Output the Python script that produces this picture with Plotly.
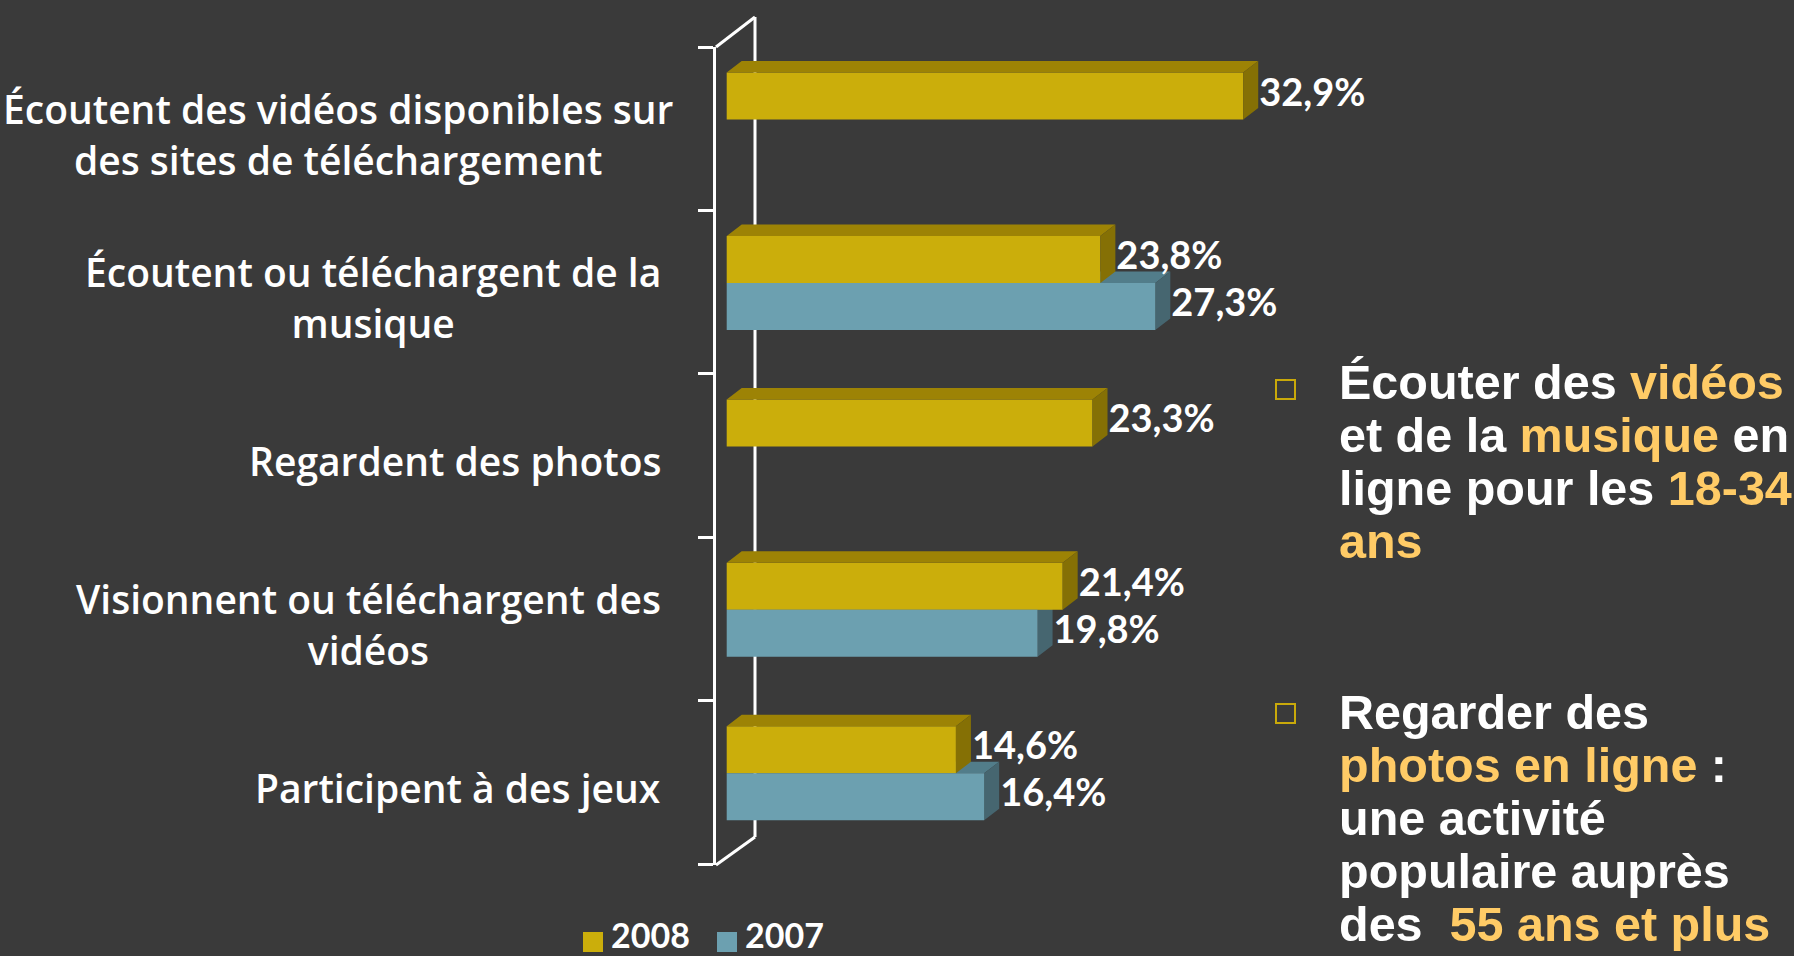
import plotly.graph_objects as go

# ---------------- data ----------------
categories = [
    "Écoutent des vidéos disponibles sur<br>des sites de téléchargement",
    "Écoutent ou téléchargent de la<br>musique",
    "Regardent des photos",
    "Visionnent ou téléchargent des<br>vidéos",
    "Participent à des jeux",
]
values_2008 = [32.9, 23.8, 23.3, 21.4, 14.6]
values_2007 = [None, 27.3, None, 19.8, 16.4]
series_names = ["2008", "2007"]

# ---------------- style / layout constants ----------------
W, H = 1794, 956
BG = "#3A3A3A"
YEL_FRONT, YEL_TOP, YEL_SIDE = "#CBAE0B", "#9D8305", "#857005"
BLU_FRONT, BLU_TOP, BLU_SIDE = "#6CA0B0", "#527D8A", "#466670"
HILITE = "#FFCB66"
BULLET = "#C9A90A"

X0_PX, X_SCALE = 726.7, 15.70          # pixel of value 0, px per %
Y0_PX, Y_STEP = 119.5, 163.45          # pixel of first group centre, px per category
X_DOM_PX = 716                          # left edge of the plot (front wall line)
Y_DOM_TOP, Y_DOM_BOT = 47, 865
BAR_W = 47 / Y_STEP
DX = 15 / X_SCALE                       # 3-D depth (x)
DY = 11.5 / Y_STEP                      # 3-D depth (y)
LABEL_GAP = 1 / X_SCALE
LABEL_RIGHT = [676, 663, 663, 663, 663]  # right edge (px) of each category label block

x_range = [(X_DOM_PX - X0_PX) / X_SCALE, (W - X0_PX) / X_SCALE]
y_range = [(Y_DOM_BOT - Y0_PX) / Y_STEP, (Y_DOM_TOP - Y0_PX) / Y_STEP]
x_domain = [X_DOM_PX / W, 1]
y_domain = [1 - Y_DOM_BOT / H, 1 - Y_DOM_TOP / H]

pos = list(range(len(categories)))


def fmt(v):
    return f"{v:.1f}".replace(".", ",") + "%"


def faces(vals, offset):
    top_x, top_y, side_x, side_y = [], [], [], []
    for p, v in zip(pos, vals):
        if v is None:
            continue
        t = p + offset
        b = t + BAR_W
        top_x += [0, v, v + DX, DX, 0, None]
        top_y += [t, t, t - DY, t - DY, t, None]
        side_x += [v, v + DX, v + DX, v, v, None]
        side_y += [t, t - DY, b - DY, b, t, None]
    return top_x, top_y, side_x, side_y


fig = go.Figure()

# 2007 depth faces (behind, base axes)
tx, ty, sx, sy = faces(values_2007, 0)
fig.add_trace(go.Scatter(x=tx, y=ty, fill="toself", fillcolor=BLU_TOP, mode="lines",
                         line=dict(width=0, color=BLU_TOP), showlegend=False, hoverinfo="skip",
                         xaxis="x", yaxis="y"))
fig.add_trace(go.Scatter(x=sx, y=sy, fill="toself", fillcolor=BLU_SIDE, mode="lines",
                         line=dict(width=0, color=BLU_SIDE), showlegend=False, hoverinfo="skip",
                         xaxis="x", yaxis="y"))

# front faces (bars) on overlay axes
fig.add_trace(go.Bar(name=series_names[0], y=pos, x=values_2008, orientation="h",
                     width=BAR_W, offset=-BAR_W, marker=dict(color=YEL_FRONT, line=dict(width=0)),
                     xaxis="x2", yaxis="y2", showlegend=False))
fig.add_trace(go.Bar(name=series_names[1], y=pos, x=values_2007, orientation="h",
                     width=BAR_W, offset=0, marker=dict(color=BLU_FRONT, line=dict(width=0)),
                     xaxis="x2", yaxis="y2", showlegend=False))

# 2008 depth faces (in front)
tx, ty, sx, sy = faces(values_2008, -BAR_W)
fig.add_trace(go.Scatter(x=tx, y=ty, fill="toself", fillcolor=YEL_TOP, mode="lines",
                         line=dict(width=0, color=YEL_TOP), showlegend=False, hoverinfo="skip",
                         xaxis="x2", yaxis="y2"))
fig.add_trace(go.Scatter(x=sx, y=sy, fill="toself", fillcolor=YEL_SIDE, mode="lines",
                         line=dict(width=0, color=YEL_SIDE), showlegend=False, hoverinfo="skip",
                         xaxis="x2", yaxis="y2"))

# value labels
for vals, off in ((values_2008, -BAR_W / 2), (values_2007, BAR_W / 2)):
    xs = [v + DX + LABEL_GAP for v in vals if v is not None]
    ys = [p + off for p, v in zip(pos, vals) if v is not None]
    ts = [fmt(v) for v in vals if v is not None]
    fig.add_trace(go.Scatter(x=xs, y=ys, text=ts, mode="text", textposition="middle right",
                             textfont=dict(family="Lato", size=38, color="white", weight="bold"),
                             showlegend=False, hoverinfo="skip", cliponaxis=False,
                             xaxis="x2", yaxis="y2"))

# category labels
for p, c, r in zip(pos, categories, LABEL_RIGHT):
    fig.add_annotation(text=c, xref="paper", yref="y", x=r / W, y=p + 14.5 / Y_STEP,
                       xanchor="right", yanchor="middle", align="center", showarrow=False,
                       font=dict(family="Open Sans", size=39, color="white", weight=600))

# back wall lines of the 3-D frame
wall = [((755, 17), (755, 837)), ((716, 47), (755, 17)), ((716, 865), (755, 837))]
for (xa, ya), (xb, yb) in wall:
    fig.add_shape(type="line", xref="paper", yref="paper", x0=xa / W, y0=1 - ya / H,
                  x1=xb / W, y1=1 - yb / H, line=dict(color="white", width=3), layer="below")

# legend (drawn manually to get the large square keys)
legend_items = [(series_names[0], YEL_FRONT, 583), (series_names[1], BLU_FRONT, 717)]
for name, col, x_px in legend_items:
    fig.add_shape(type="rect", xref="paper", yref="paper", x0=x_px / W, x1=(x_px + 20) / W,
                  y0=1 - 952 / H, y1=1 - 932 / H, fillcolor=col, line=dict(width=0))
    fig.add_annotation(text=name, xref="paper", yref="paper", x=(x_px + 26) / W,
                       y=0.002, xanchor="left", yanchor="bottom", yshift=-3, showarrow=False,
                       font=dict(family="Lato", size=34, color="white", weight="bold"))

# right-hand commentary
W_ = "white"
lines = [
    (399, [("Écouter des ", W_), ("vidéos", HILITE)]),
    (452, [("et de la ", W_), ("musique", HILITE), (" en", W_)]),
    (505, [("ligne pour les ", W_), ("18-34", HILITE)]),
    (558, [("ans", HILITE)]),
    (729, [("Regarder des", W_)]),
    (782, [("photos en ligne", HILITE), (" :", W_)]),
    (835, [("une activité", W_)]),
    (888, [("populaire auprès", W_)]),
    (941, [("des  ", W_), ("55 ans et plus", HILITE)]),
]
FS = 48.5
for base, parts in lines:
    txt = "".join(f"<span style='color:{col}'>{t}</span>" for t, col in parts)
    fig.add_annotation(text=txt, xref="paper", yref="paper", x=1337 / W,
                       y=1 - (base - 0.3465 * FS) / H, xanchor="left", yanchor="middle",
                       showarrow=False, font=dict(family="Liberation Sans, Arial", size=FS,
                                                  color="white", weight="bold"))

for y_top in (380, 704):
    fig.add_shape(type="rect", xref="paper", yref="paper", x0=1276 / W, x1=1295 / W,
                  y0=1 - (y_top + 19) / H, y1=1 - y_top / H,
                  line=dict(color=BULLET, width=2), fillcolor="rgba(0,0,0,0)")

fig.update_layout(
    width=W, height=H, paper_bgcolor=BG, plot_bgcolor=BG,
    margin=dict(l=0, r=0, t=0, b=0, autoexpand=False),
    barmode="overlay",
    xaxis=dict(domain=x_domain, range=x_range, visible=False, fixedrange=True),
    yaxis=dict(domain=y_domain, range=y_range, showgrid=False, zeroline=False,
               showticklabels=False, showline=True, linecolor="white", linewidth=3,
               ticks="outside", ticklen=15, tickwidth=3, tickcolor="white",
               tickvals=[k + (Y_DOM_TOP - Y0_PX) / Y_STEP for k in range(len(categories) + 1)]),
    xaxis2=dict(domain=x_domain, range=x_range, overlaying="x", visible=False),
    yaxis2=dict(domain=y_domain, range=y_range, overlaying="y", visible=False),
    showlegend=False,
)

fig.write_html("out.html", config={"displayModeBar": False},
               post_script="document.body.style.margin='0';"
                           "document.body.style.background='#3A3A3A';")
